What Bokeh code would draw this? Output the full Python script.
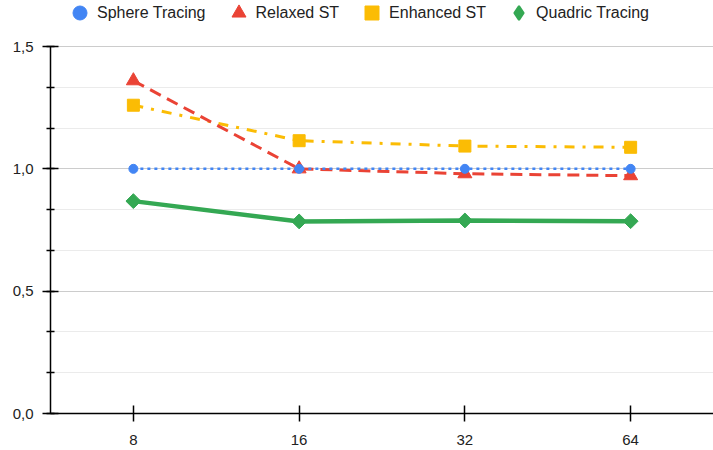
from bokeh.plotting import figure
from bokeh.models import (ColumnDataSource, FixedTicker, CustomJSTickFormatter,
                          Legend, LegendItem, Range1d)
from bokeh.embed import file_html
from bokeh.resources import INLINE
import math

# Step counts (x categories) and relative cost per method
steps = ["8", "16", "32", "64"]
sphere_tracing = [1.0, 1.0, 1.0, 1.0]
relaxed_st = [1.36, 1.0, 0.98, 0.972]
enhanced_st = [1.26, 1.115, 1.093, 1.088]
quadric_tracing = [0.868, 0.785, 0.789, 0.786]

y_major = [0.0, 0.5, 1.0, 1.5]
y_minor = [i / 6 for i in range(10)]

FONT = "Liberation Sans"
TEXT = "#222222"

# The value axis runs 0..1.5; the frame reaches a little higher so that the
# legend row can sit inside it above the top gridline.
PLOT_H, BOTTOM, HEADROOM = 450, 37, 46
y_top = 1.5 * (PLOT_H - BOTTOM) / (PLOT_H - BOTTOM - HEADROOM)

p = figure(width=713, height=PLOT_H, x_range=steps, y_range=Range1d(0, y_top),
           output_backend="svg", toolbar_location=None,
           min_border_left=50, min_border_right=0,
           min_border_top=0, min_border_bottom=BOTTOM)
p.outline_line_color = None
p.background_fill_color = "white"
p.border_fill_color = "white"

# Axes
for ax in (p.xaxis[0], p.yaxis[0]):
    ax.axis_line_color = "black"
    ax.axis_line_width = 1.5
    ax.major_tick_line_color = "black"
    ax.major_tick_line_width = 1.5
    ax.major_tick_in = 8
    ax.major_tick_out = 8
    ax.major_label_text_font = FONT
    ax.major_label_text_font_size = "15px"
    ax.major_label_text_color = TEXT
p.yaxis.bounds = (0, 1.5)
p.yaxis.major_label_standoff = 9
p.xaxis.major_label_standoff = 13
p.yaxis.ticker = FixedTicker(ticks=y_major, minor_ticks=y_minor)
p.yaxis.minor_tick_line_color = "black"
p.yaxis.minor_tick_line_width = 1.5
p.yaxis.minor_tick_in = 4
p.yaxis.minor_tick_out = 4
p.yaxis.formatter = CustomJSTickFormatter(code="return tick.toFixed(1).replace('.', ',');")

p.xgrid.grid_line_color = None
p.ygrid.grid_line_color = "#cccccc"
p.ygrid.minor_grid_line_color = "#ebebeb"

src = ColumnDataSource(dict(x=steps, s=sphere_tracing, r=relaxed_st,
                            e=enhanced_st, q=quadric_tracing))

BLUE, RED, YELLOW, GREEN = "#4285f4", "#ea4335", "#fbbc04", "#34a853"

p.line("x", "q", source=src, color=GREEN, line_width=4.5)
p.scatter("x", "q", source=src, marker="square", angle=math.pi / 4,
          size=10.5, color=GREEN)
# zero-size diamonds: only provide the legend swatch for this series
q_key = p.scatter("x", "q", source=src, marker="diamond", size=0,
                  fill_color=GREEN, line_color=GREEN, line_width=2)

p.line("x", "e", source=src, color=YELLOW, line_width=3, line_dash="10 8 3 8")
e_pts = p.scatter("x", "e", source=src, marker="square", size=12, color=YELLOW)

p.line("x", "r", source=src, color=RED, line_width=3, line_dash="12 7")
r_pts = p.scatter("x", "r", source=src, marker="triangle", size=14, color=RED)

p.line("x", "s", source=src, color=BLUE, line_width=2.5, line_dash="3 4")
s_pts = p.scatter("x", "s", source=src, marker="circle", size=9, color=BLUE)

legend = Legend(items=[
    LegendItem(label="Sphere Tracing", renderers=[s_pts]),
    LegendItem(label="Relaxed ST", renderers=[r_pts]),
    LegendItem(label="Enhanced ST", renderers=[e_pts]),
    LegendItem(label="Quadric Tracing", renderers=[q_key]),
], orientation="horizontal", location=(12, 383), padding=0, margin=0,
    spacing=15, glyph_width=35, glyph_height=35, label_standoff=0,
    label_text_font=FONT, label_text_font_size="16px",
    label_text_color=TEXT, border_line_color=None,
    background_fill_alpha=0)
p.add_layout(legend, "center")

open("out.html", "w").write(file_html(p, INLINE))
